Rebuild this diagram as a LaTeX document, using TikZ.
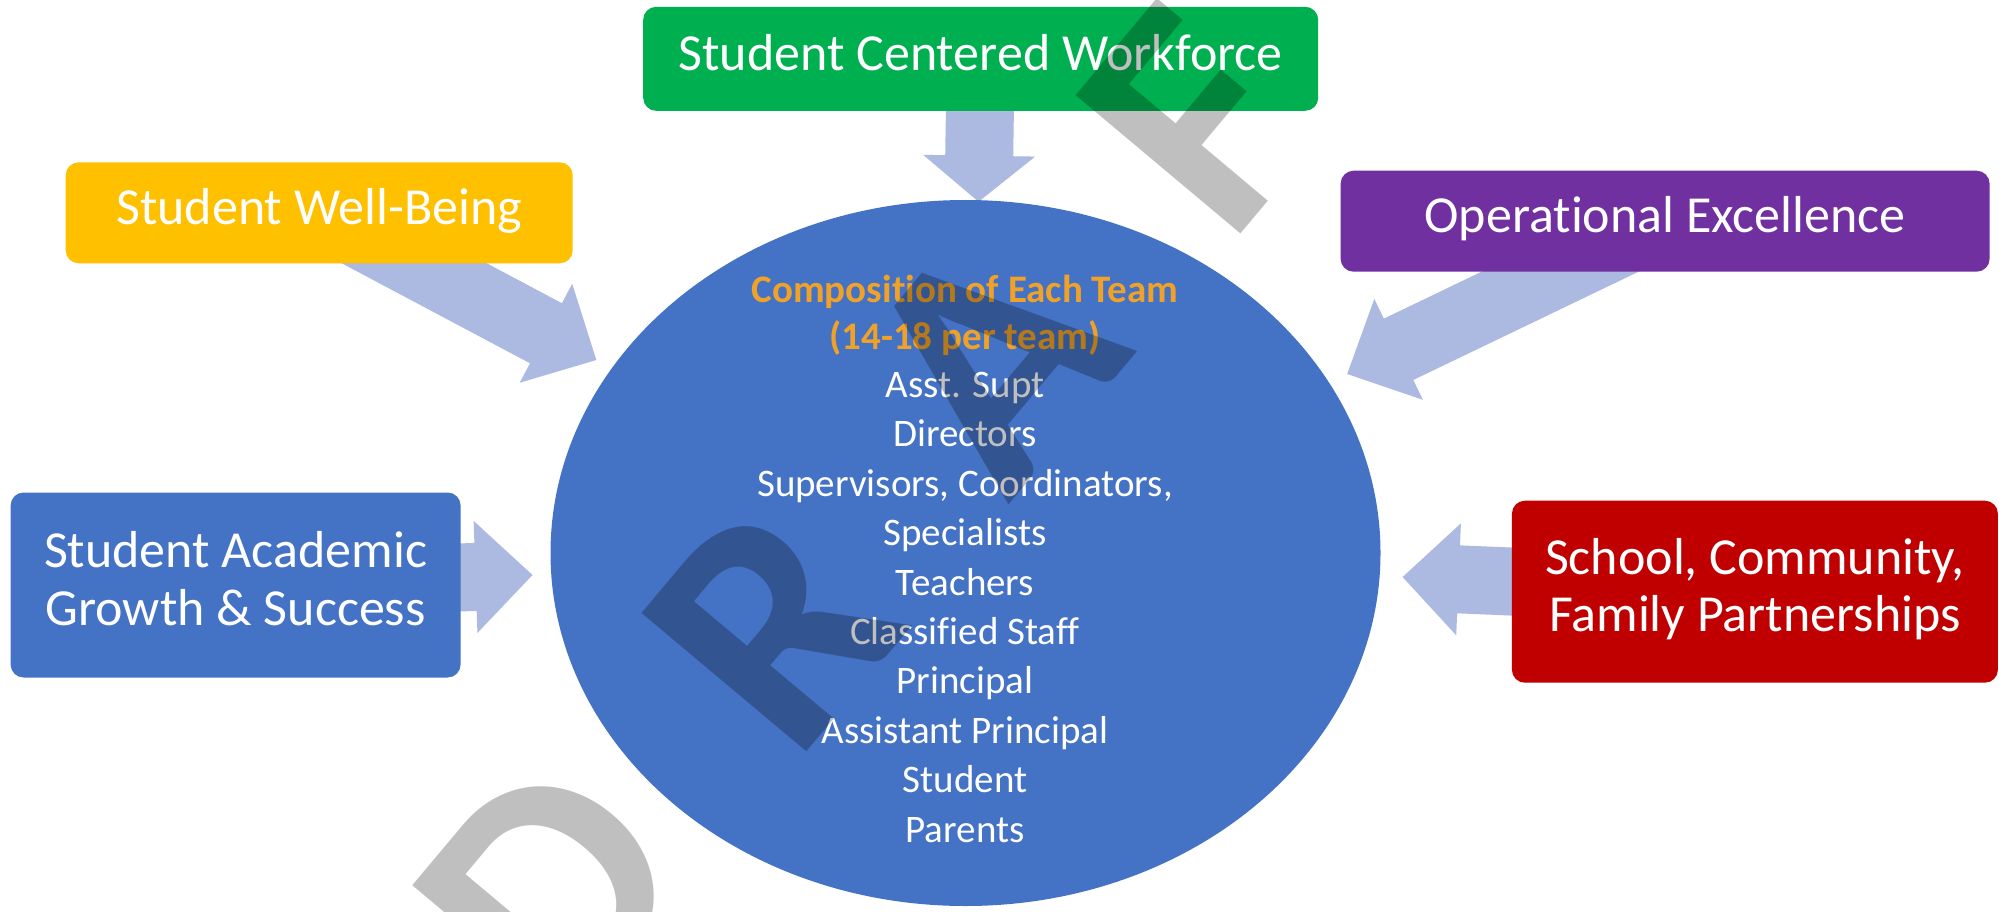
\documentclass[tikz,border=0pt]{standalone}
\usepackage{fontspec}
\setmainfont{Carlito}[Ligatures=NoCommon]
\usepackage{tikz}
\usetikzlibrary{calc,shapes.geometric,backgrounds}
\definecolor{swgreen}{RGB}{0,176,80}
\definecolor{swyellow}{RGB}{255,192,0}
\definecolor{swpurple}{RGB}{112,48,160}
\definecolor{swblue}{RGB}{68,114,196}
\definecolor{swred}{RGB}{192,0,0}
\definecolor{arrowblue}{RGB}{172,185,224}
\definecolor{teamorange}{RGB}{240,162,40}
\newcommand{\boxfont}{\fontsize{52}{57.3}\selectfont}
\newcommand{\teamfont}{\fontsize{39}{49.4}\selectfont}
\tikzset{
  goal/.style={rectangle, rounded corners=13pt, text=white, align=center, font=\boxfont, inner sep=0pt,
    execute at begin node={\rule[-0.25em]{0pt}{0.8em}}, execute at end node={\rule[-0.25em]{0pt}{0.8em}}},
  blockarrow/.style={fill=arrowblue, to path={
      ($(\tikztostart)!34pt!90:(\tikztotarget)$)
      -- ($($(\tikztotarget)!#1!(\tikztostart)$)!34pt!-90:(\tikztostart)$)
      -- ($($(\tikztotarget)!#1!(\tikztostart)$)!56pt!-90:(\tikztostart)$)
      -- (\tikztotarget)
      -- ($($(\tikztotarget)!#1!(\tikztostart)$)!56pt!90:(\tikztostart)$)
      -- ($($(\tikztotarget)!#1!(\tikztostart)$)!34pt!90:(\tikztostart)$)
      -- ($(\tikztostart)!34pt!-90:(\tikztotarget)$) -- cycle}},
  blockarrow/.default=57pt,
  watermark/.style={rotate=50, anchor=base west, inner sep=0pt, text=black, text opacity=0.25,
    font=\fontsize{332}{332}\selectfont\bfseries}
}

\begin{document}
\begin{tikzpicture}[x=1pt,y=-1pt]
  \useasboundingbox (0,0) rectangle (1999,911);
  % team in the middle
  \node [ellipse, fill=swblue, minimum width=830pt, minimum height=706pt, inner sep=0pt] (team) at (965.5,553) {};
  \node [font=\teamfont, text=white, align=center, anchor=north, inner sep=0pt] (members) at (965,275)
    {\textcolor{teamorange}{\bfseries Composition of Each Team}\\[-2.7pt]
     \textcolor{teamorange}{\bfseries (14-18 per team)}\\[-1.1pt]
     Asst. Supt\\ Directors\\ Supervisors, Coordinators,\\ Specialists\\ Teachers\\
     Classified Staff\\ Principal\\ Assistant Principal\\ Student\\ Parents};
  % goals round it
  \node [goal, fill=swgreen, minimum width=675pt, minimum height=104pt] (workforce) at (980.7,58.8) {Student Centered Workforce};
  \node [goal, fill=swyellow, minimum width=507pt, minimum height=101pt] (wellbeing) at (319.2,212.8) {Student Well-Being};
  \node [goal, fill=swpurple, minimum width=649pt, minimum height=101pt] (operational) at (1665.1,221.2) {Operational Excellence};
  \node [goal, fill=swblue, minimum width=450pt, minimum height=185pt] (academic) at (235.6,585) {Student Academic\\Growth \& Success};
  \node [goal, fill=swred, minimum width=486pt, minimum height=182pt] (partnerships) at (1754.9,591.7) {School, Community,\\Family Partnerships};
  \coordinate (workforce-tip) at (978.5,201.7);
  \coordinate (wellbeing-tip) at (596.3,360);
  \coordinate (operational-tip) at (1347.2,374);
  \coordinate (academic-tip) at (532.5,575);
  \coordinate (partnerships-tip) at (1402.6,577);
  \begin{scope}[on background layer]
    \fill [white] (0,0) rectangle (1999,911);
    \path [blockarrow=46pt] (workforce) to (workforce-tip);
    \path [blockarrow] (wellbeing) to (wellbeing-tip);
    \path [blockarrow] (operational) to (operational-tip);
    \path [blockarrow] (academic) to (academic-tip);
    \path [blockarrow=56pt] (partnerships) to (partnerships-tip);
  \end{scope}
  % draft mark
  \foreach \ch/\wx/\wy in {D/565.8/1038.2, R/794/766.6, A/1008.8/505.6, F/1229/247.6, T/1423/16.4}
    \node [watermark] (draft-\ch) at (\wx,\wy) {\ch};
\end{tikzpicture}
\end{document}
